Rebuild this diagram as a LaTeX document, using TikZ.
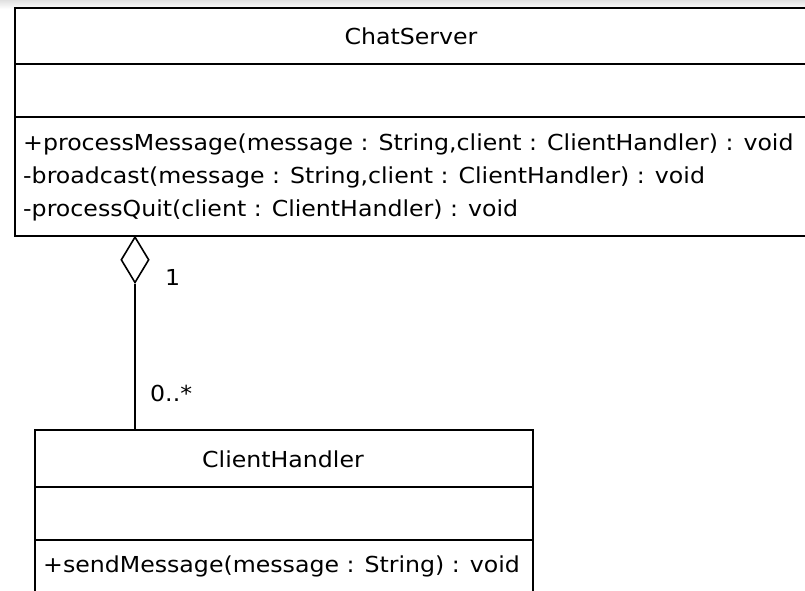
\documentclass[tikz,border=0pt]{standalone}
\usepackage{fontspec}
\setmainfont[FakeStretch=1.075]{DejaVu Sans}
\usetikzlibrary{shapes.geometric,shadows}
\begin{document}
\begin{tikzpicture}[x=1pt,y=-1pt,
  umlbox/.style={draw=black, line width=1.9pt, rectangle, inner sep=0pt, anchor=north west, fill=white,
    drop shadow={shadow xshift=1.5pt, shadow yshift=-1.5pt, opacity=0.35}},
  sepline/.style={draw=black, line width=1.9pt},
  txt/.style={inner sep=0pt, font=\fontsize{22}{26}\selectfont},
  meth/.style={txt, anchor=west},
  agg/.style={draw=black, line width=1.6pt, shape=diamond, inner sep=0pt, fill=white,
    minimum width=28pt, minimum height=46pt, anchor=north},
  conn/.style={draw=black, line width=1.6pt}]
\useasboundingbox (0,0) rectangle (805,591);
\clip (0,0) rectangle (805,591);
\shade[top color=black!12, bottom color=white] (0,0) rectangle (805,9);
% ChatServer
\node[umlbox, minimum width=806pt, minimum height=228pt] (cs) at (14,7) {};
\draw[sepline] (14,64) -- (820,64);
\draw[sepline] (14,117) -- (820,117);
\node[txt] (csname) at (411,36) {ChatServer};
\node[meth] (m1) at (23,144) {+processMessage(message : String,client : ClientHandler) : void};
\node[meth] (m2) at (23,177) {-broadcast(message : String,client : ClientHandler) : void};
\node[meth] (m3) at (23,210) {-processQuit(client : ClientHandler) : void};
% ClientHandler
\node[umlbox, minimum width=498pt, minimum height=180pt] (ch) at (34,429) {};
\draw[sepline] (34,487) -- (532,487);
\draw[sepline] (34,540) -- (532,540);
\node[txt] (chname) at (283,459) {ClientHandler};
\node[meth] (m4) at (43,566) {+sendMessage(message : String) : void};
% aggregation
\node[agg] (dia) at (135,236) {};
\draw[conn] (dia.south) -- (dia.south |- ch.north);
\node[txt, anchor=west] (mul1) at (165,277) {1};
\node[txt, anchor=west] (mul2) at (150,393) {0..*};
\end{tikzpicture}
\end{document}
